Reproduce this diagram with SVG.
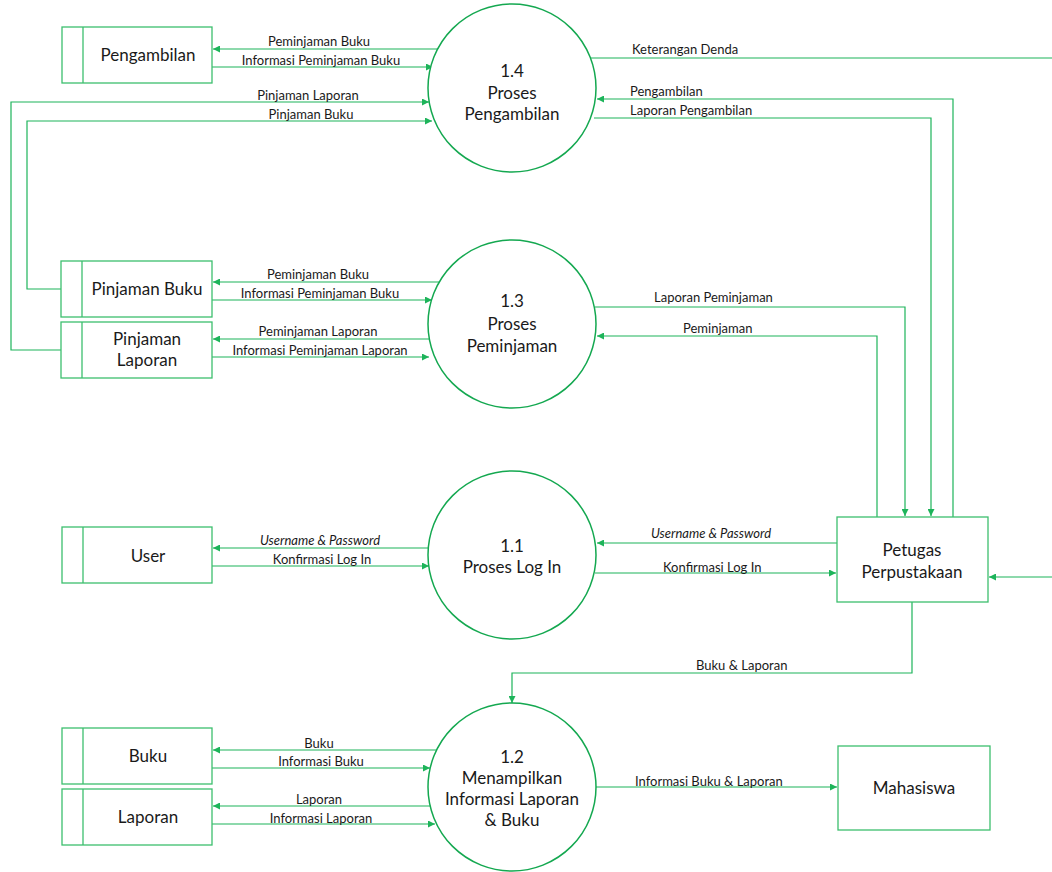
<svg xmlns="http://www.w3.org/2000/svg" width="1052" height="872" viewBox="0 0 1052 872">
<defs>
<marker id="arr" viewBox="0 0 10 10" refX="10" refY="5" markerWidth="9" markerHeight="7" markerUnits="userSpaceOnUse" orient="auto">
<path d="M0,0 L10,5 L0,10 z" fill="#1db45a"/>
</marker>
</defs>
<style>
.proc{fill:#fff;stroke:#14a850;stroke-width:1.5}
.ent{fill:#fff;stroke:#3cbf6e;stroke-width:1.3}
.div{stroke:#3cbf6e;stroke-width:1.3}
.ln{fill:none;stroke:#1db45a;stroke-width:1.2}
.ar{marker-end:url(#arr)}
.nt{font-family:Lato,"Noto Sans",sans-serif;font-size:17px;fill:#1a1a1a;text-anchor:middle}
.lb{font-family:Lato,"Noto Sans",sans-serif;font-size:13px;fill:#1a1a1a;text-anchor:middle}
.ls{text-anchor:start}
.it{font-style:italic}
</style>
<rect width="1052" height="872" fill="#fff"/>

<g id="connectors">
<!-- 1.4 -->
<line class="ln ar" x1="440" y1="49" x2="213" y2="49"/>
<line class="ln ar" x1="212" y1="67" x2="433" y2="67"/>
<polyline class="ln ar" points="61,350 11,350 11,102 429,102"/>
<polyline class="ln ar" points="61,289 27,289 27,121 432,121"/>
<line class="ln" x1="590" y1="58" x2="1052" y2="58"/>
<polyline class="ln ar" points="953,517 953,99 597,99"/>
<polyline class="ln ar" points="594,118 931,118 931,516"/>
<!-- 1.3 -->
<line class="ln ar" x1="441" y1="282" x2="213" y2="282"/>
<line class="ln ar" x1="212" y1="300" x2="432" y2="300"/>
<line class="ln ar" x1="430" y1="339" x2="213" y2="339"/>
<line class="ln ar" x1="212" y1="357" x2="429" y2="357"/>
<polyline class="ln ar" points="595,307 905,307 905,516"/>
<polyline class="ln ar" points="877,517 877,336 597,336"/>
<!-- 1.1 -->
<line class="ln ar" x1="431" y1="548" x2="213" y2="548"/>
<line class="ln ar" x1="212" y1="566" x2="429" y2="566"/>
<line class="ln ar" x1="837" y1="543" x2="597" y2="543"/>
<line class="ln ar" x1="595" y1="573" x2="836" y2="573"/>
<line class="ln ar" x1="1052" y1="577" x2="989" y2="577"/>
<polyline class="ln ar" points="912,602 912,673 512,673 512,703"/>
<!-- 1.2 -->
<line class="ln ar" x1="440" y1="750" x2="213" y2="750"/>
<line class="ln ar" x1="212" y1="768" x2="430" y2="768"/>
<line class="ln ar" x1="431" y1="806" x2="213" y2="806"/>
<line class="ln ar" x1="212" y1="824" x2="435" y2="824"/>
<line class="ln ar" x1="596" y1="787" x2="837" y2="787"/>
</g>

<g id="labels">
<text class="lb" x="319" y="46">Peminjaman Buku</text>
<text class="lb" x="321" y="65">Informasi Peminjaman Buku</text>
<text class="lb" x="308" y="100">Pinjaman Laporan</text>
<text class="lb" x="311" y="119">Pinjaman Buku</text>
<text class="lb ls" x="632" y="54">Keterangan Denda</text>
<text class="lb ls" x="630" y="96">Pengambilan</text>
<text class="lb ls" x="630" y="115">Laporan Pengambilan</text>
<text class="lb" x="318" y="279">Peminjaman Buku</text>
<text class="lb" x="320" y="298">Informasi Peminjaman Buku</text>
<text class="lb ls" x="654" y="302">Laporan Peminjaman</text>
<text class="lb ls" x="683" y="333">Peminjaman</text>
<text class="lb" x="318" y="336">Peminjaman Laporan</text>
<text class="lb" x="320" y="355">Informasi Peminjaman Laporan</text>
<text class="lb it" x="320" y="545">Username &amp; Password</text>
<text class="lb" x="322" y="564">Konfirmasi Log In</text>
<text class="lb ls it" x="651" y="538">Username &amp; Password</text>
<text class="lb ls" x="663" y="572">Konfirmasi Log In</text>
<text class="lb ls" x="696" y="670">Buku &amp; Laporan</text>
<text class="lb" x="319" y="748">Buku</text>
<text class="lb" x="321" y="766">Informasi Buku</text>
<text class="lb" x="319" y="804">Laporan</text>
<text class="lb" x="321" y="823">Informasi Laporan</text>
<text class="lb ls" x="635" y="786">Informasi Buku &amp; Laporan</text>
</g>

<g id="p14">
<circle class="proc" cx="512" cy="88" r="84"/>
<text class="nt" x="512" y="77">1.4</text>
<text class="nt" x="512" y="99">Proses</text>
<text class="nt" x="512" y="120">Pengambilan</text>
</g>
<g id="p13">
<circle class="proc" cx="512" cy="324" r="84"/>
<text class="nt" x="512" y="307">1.3</text>
<text class="nt" x="512" y="330">Proses</text>
<text class="nt" x="512" y="352">Peminjaman</text>
</g>
<g id="p11">
<circle class="proc" cx="512" cy="555" r="84"/>
<text class="nt" x="512" y="552">1.1</text>
<text class="nt" x="512" y="573">Proses Log In</text>
</g>
<g id="p12">
<circle class="proc" cx="512" cy="787" r="84"/>
<text class="nt" x="512" y="763">1.2</text>
<text class="nt" x="512" y="784">Menampilkan</text>
<text class="nt" x="512" y="805">Informasi Laporan</text>
<text class="nt" x="512" y="826">&amp; Buku</text>
</g>

<g id="e-pengambilan">
<rect class="ent" x="62" y="27" width="150" height="56"/>
<line class="div" x1="83" y1="27" x2="83" y2="83"/>
<text class="nt" x="148" y="61">Pengambilan</text>
</g>
<g id="e-pinjamanbuku">
<rect class="ent" x="61" y="261" width="151" height="56"/>
<line class="div" x1="82" y1="261" x2="82" y2="317"/>
<text class="nt" x="147" y="295">Pinjaman Buku</text>
</g>
<g id="e-pinjamanlaporan">
<rect class="ent" x="61" y="322" width="151" height="56"/>
<line class="div" x1="82" y1="322" x2="82" y2="378"/>
<text class="nt" x="147" y="345">Pinjaman</text>
<text class="nt" x="147" y="366">Laporan</text>
</g>
<g id="e-user">
<rect class="ent" x="62" y="527" width="150" height="56"/>
<line class="div" x1="83" y1="527" x2="83" y2="583"/>
<text class="nt" x="148" y="562">User</text>
</g>
<g id="e-buku">
<rect class="ent" x="62" y="728" width="150" height="56"/>
<line class="div" x1="83" y1="728" x2="83" y2="784"/>
<text class="nt" x="148" y="762">Buku</text>
</g>
<g id="e-laporan">
<rect class="ent" x="62" y="789" width="150" height="56"/>
<line class="div" x1="83" y1="789" x2="83" y2="845"/>
<text class="nt" x="148" y="823">Laporan</text>
</g>
<g id="e-petugas">
<rect class="ent" x="837" y="517" width="151" height="85"/>
<text class="nt" x="912" y="556">Petugas</text>
<text class="nt" x="912" y="578">Perpustakaan</text>
</g>
<g id="e-mahasiswa">
<rect class="ent" x="838" y="746" width="152" height="84"/>
<text class="nt" x="914" y="794">Mahasiswa</text>
</g>
</svg>
